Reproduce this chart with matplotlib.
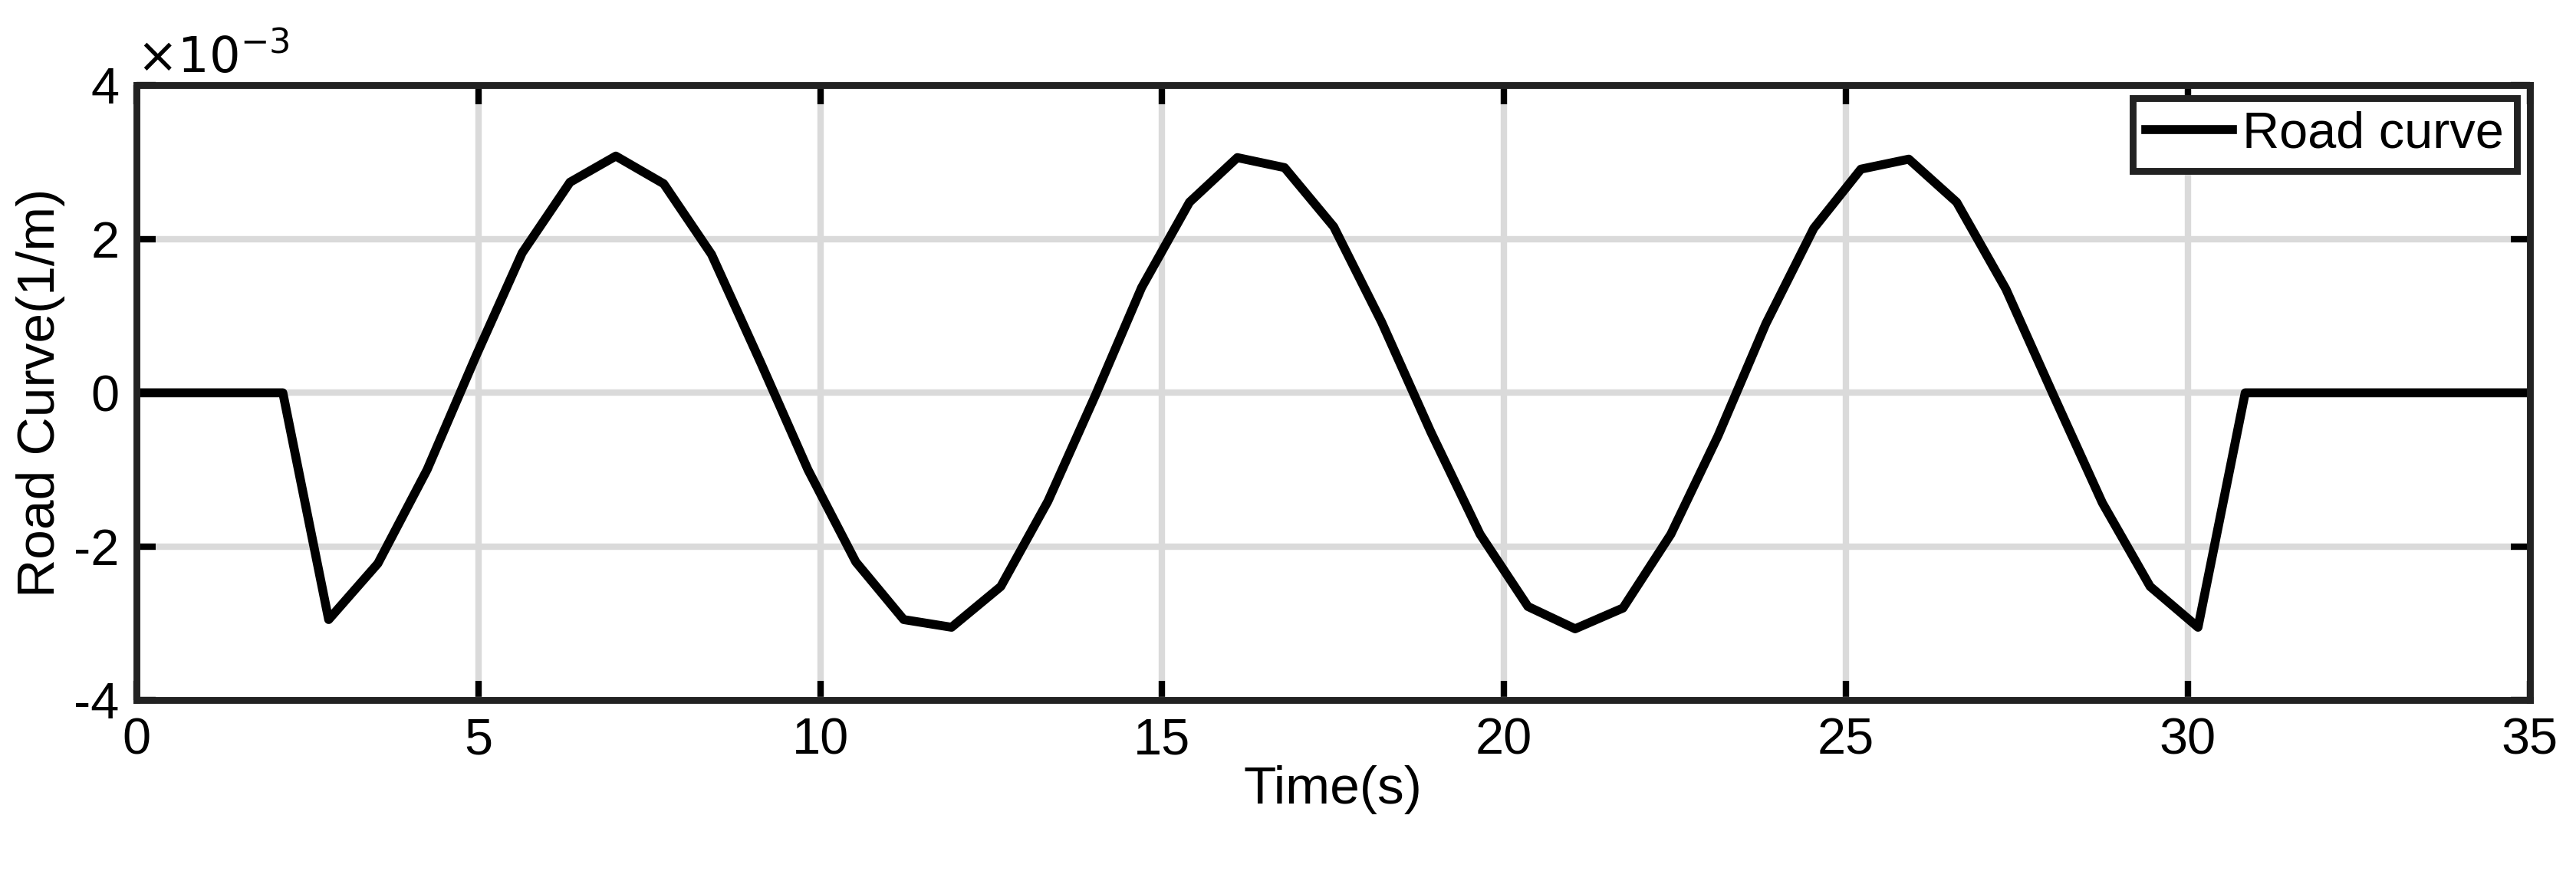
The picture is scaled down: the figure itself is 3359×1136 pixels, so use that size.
import matplotlib
matplotlib.use("Agg")
import matplotlib.pyplot as plt

plt.rcParams["font.family"] = ["Liberation Sans", "DejaVu Sans"]

# road curvature (units 1e-3 1/m)
time_s = [0, 2.14, 2.81, 3.53, 4.25, 4.97, 5.64, 6.34, 7.01, 7.71, 8.41, 9.13, 9.82,
          10.52, 11.22, 11.92, 12.64, 13.33, 14.03, 14.70, 15.40, 16.10, 16.79, 17.51,
          18.21, 18.93, 19.65, 20.35, 21.04, 21.74, 22.44, 23.13, 23.83, 24.53, 25.22,
          25.92, 26.62, 27.34, 28.03, 28.75, 29.45, 30.15, 30.84, 35]
curve_e3 = [0, 0, -2.95, -2.22, -1.0, 0.49, 1.82, 2.74, 3.08, 2.72, 1.8, 0.39, -1.0,
            -2.2, -2.95, -3.05, -2.52, -1.41, -0.02, 1.37, 2.48, 3.06, 2.93, 2.16,
            0.92, -0.51, -1.84, -2.78, -3.07, -2.8, -1.84, -0.56, 0.9, 2.14, 2.91,
            3.04, 2.48, 1.35, -0.02, -1.43, -2.52, -3.05, 0, 0]
curve = [v * 1e-3 for v in curve_e3]

fig = plt.figure(figsize=(16.795, 5.68), dpi=200)
ax = fig.add_axes([0.053, 0.196, 0.929, 0.706])
ax.plot(time_s, curve, color="black", lw=4.2, label="Road curve")

ax.set_xlim(0, 35)
ax.set_ylim(-4e-3, 4e-3)
ax.set_xticks(range(0, 36, 5))
ax.set_yticks([-4e-3, -2e-3, 0, 2e-3, 4e-3])
ax.set_yticklabels(["-4", "-2", "0", "2", "4"])
ax.text(0.0, 1.005, r"$\times10^{-3}$", transform=ax.transAxes, fontsize=23,
        ha="left", va="bottom")

ax.grid(True, color="#dadada", lw=3)
ax.set_axisbelow(True)
ax.tick_params(direction="in", length=9, width=3, top=True, right=True,
               labelsize=24, pad=8)
for s in ax.spines.values():
    s.set_linewidth(3.2)
    s.set_color("#222222")
ax.set_xlabel("Time(s)", fontsize=25, labelpad=0)
ax.set_ylabel("Road Curve(1/m)", fontsize=25, labelpad=4)

leg = ax.legend(loc="upper right", fontsize=24, fancybox=False, framealpha=1,
                edgecolor="#222222", handlelength=1.7, handletextpad=0.2,
                borderpad=0.25, borderaxespad=0.25)
leg.get_frame().set_linewidth(3.2)

fig.savefig("out.png", dpi=200)
